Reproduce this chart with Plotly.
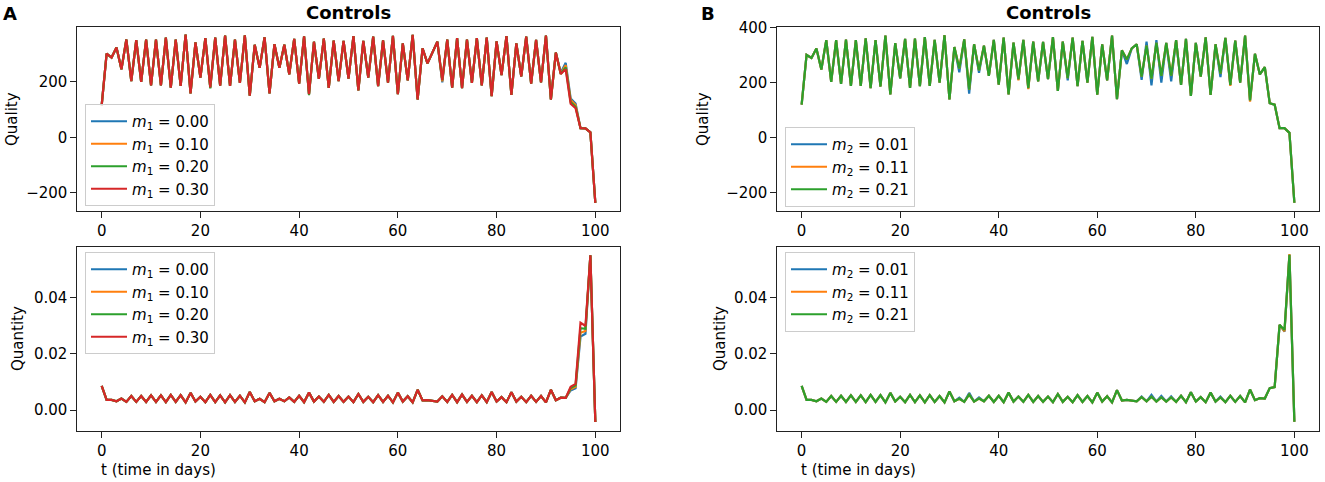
#!/usr/bin/env python3
"""
Controls panels (A: m1 sweep, B: m2 sweep) - quality and quantity over 100 days.
Writes out.html
"""

import plotly.graph_objects as go
from plotly.subplots import make_subplots

# ---------------------------------------------------------------------------
# Data
# ---------------------------------------------------------------------------
days = list(range(101))

# Panel A, m1 = 0.30 (top-most red line)
quality_a = [
    115, 301, 287, 323, 245, 352, 202, 350, 200, 352,
    187, 352, 187, 359, 179, 352, 185, 370, 158, 342,
    215, 357, 180, 359, 186, 366, 185, 352, 196, 367,
    150, 333, 250, 360, 158, 335, 250, 333, 227, 354,
    193, 363, 155, 344, 210, 355, 178, 348, 202, 347,
    211, 364, 169, 347, 215, 362, 184, 349, 197, 365,
    155, 338, 205, 369, 136, 320, 266, 305, 344, 206,
    352, 179, 357, 177, 352, 196, 357, 187, 359, 148,
    345, 224, 364, 153, 338, 219, 362, 193, 351, 198,
    366, 136, 305, 228, 245, 121, 105, 33, 32, 18,
    -236,
]
quantity_a = [
    0.0086, 0.0036, 0.0036, 0.0031, 0.0041, 0.0029, 0.0050, 0.0029, 0.0050, 0.0029,
    0.0052, 0.0029, 0.0052, 0.0028, 0.0054, 0.0029, 0.0053, 0.0027, 0.0061, 0.0030,
    0.0047, 0.0028, 0.0054, 0.0028, 0.0052, 0.0027, 0.0053, 0.0029, 0.0051, 0.0027,
    0.0064, 0.0031, 0.0040, 0.0028, 0.0061, 0.0031, 0.0040, 0.0031, 0.0045, 0.0029,
    0.0051, 0.0028, 0.0062, 0.0030, 0.0048, 0.0029, 0.0054, 0.0029, 0.0050, 0.0029,
    0.0048, 0.0028, 0.0057, 0.0029, 0.0047, 0.0028, 0.0053, 0.0029, 0.0051, 0.0027,
    0.0062, 0.0030, 0.0049, 0.0027, 0.0072, 0.0034, 0.0035, 0.0033, 0.0030, 0.0049,
    0.0029, 0.0054, 0.0028, 0.0055, 0.0029, 0.0051, 0.0028, 0.0052, 0.0028, 0.0064,
    0.0030, 0.0046, 0.0028, 0.0063, 0.0030, 0.0047, 0.0028, 0.0051, 0.0029, 0.0050,
    0.0027, 0.0072, 0.0035, 0.0044, 0.0043, 0.0083, 0.0093, 0.0312, 0.0300, 0.0552,
    -0.0043,
]
# where the lower m1 lines show through (day: value)
m1_labels = ['0.00', '0.10', '0.20', '0.30']
quality_a_diff = {
    '0.00': {69: 198, 93: 232, 94: 268, 95: 140, 96: 122},
    '0.10': {69: 201, 94: 260, 95: 134, 96: 116},
    '0.20': {22: 176, 42: 152, 94: 252, 95: 127, 96: 110},
    '0.30': {},
}
quantity_a_diff = {
    '0.00': {95: 0.0070, 96: 0.0078, 97: 0.0262, 98: 0.0272},
    '0.10': {95: 0.0074, 96: 0.0083, 97: 0.0276, 98: 0.0282},
    '0.20': {95: 0.0078, 96: 0.0088, 97: 0.0292, 98: 0.0290},
    '0.30': {},
}

# Panel B, m2 = 0.21 (top-most green line)
quality_b = [
    120, 301, 290, 325, 248, 355, 203, 355, 196, 357,
    188, 355, 188, 362, 180, 355, 186, 372, 157, 344,
    216, 360, 181, 361, 187, 366, 188, 356, 200, 373,
    139, 330, 252, 358, 175, 340, 245, 335, 225, 356,
    193, 364, 157, 346, 212, 356, 180, 350, 205, 349,
    213, 366, 170, 350, 217, 364, 187, 352, 200, 367,
    156, 340, 208, 372, 140, 318, 285, 325, 340, 222,
    335, 215, 345, 225, 345, 226, 355, 192, 360, 152,
    345, 222, 365, 155, 340, 233, 363, 192, 353, 200,
    372, 135, 305, 230, 257, 125, 120, 34, 34, 17,
    -238,
]
quantity_b = [
    0.0086, 0.0036, 0.0036, 0.0031, 0.0041, 0.0029, 0.0050, 0.0029, 0.0051, 0.0029,
    0.0052, 0.0029, 0.0052, 0.0028, 0.0054, 0.0029, 0.0053, 0.0027, 0.0061, 0.0030,
    0.0047, 0.0028, 0.0054, 0.0028, 0.0052, 0.0027, 0.0053, 0.0029, 0.0050, 0.0027,
    0.0066, 0.0031, 0.0040, 0.0029, 0.0055, 0.0030, 0.0041, 0.0031, 0.0051, 0.0029,
    0.0051, 0.0028, 0.0062, 0.0030, 0.0048, 0.0029, 0.0054, 0.0029, 0.0050, 0.0029,
    0.0048, 0.0028, 0.0057, 0.0029, 0.0047, 0.0028, 0.0053, 0.0029, 0.0050, 0.0027,
    0.0062, 0.0030, 0.0049, 0.0027, 0.0071, 0.0034, 0.0036, 0.0034, 0.0031, 0.0046,
    0.0031, 0.0047, 0.0030, 0.0045, 0.0030, 0.0045, 0.0029, 0.0051, 0.0028, 0.0063,
    0.0030, 0.0046, 0.0028, 0.0062, 0.0030, 0.0045, 0.0028, 0.0051, 0.0029, 0.0050,
    0.0027, 0.0073, 0.0035, 0.0042, 0.0041, 0.0078, 0.0082, 0.0304, 0.0286, 0.0554,
    -0.0042,
]
m2_labels = ['0.01', '0.11', '0.21']
quality_b_diff = {
    '0.01': {32: 238, 34: 160, 36: 236, 54: 208, 66: 268, 69: 210, 70: 350,
             71: 190, 72: 355, 73: 200, 75: 205, 85: 220},
    '0.11': {44: 208, 46: 176, 87: 188, 91: 131},
    '0.21': {},
}
quantity_b_diff = {
    '0.01': {32: 0.0044, 34: 0.0061, 36: 0.0045, 69: 0.0048, 71: 0.0054,
             73: 0.0050, 75: 0.0049, 85: 0.0048, 98: 0.0280},
    '0.11': {98: 0.0281, 99: 0.0557},
    '0.21': {},
}

# matplotlib tab10
COLORS = ['#1f77b4', '#ff7f0e', '#2ca02c', '#d62728']
FONT = 'DejaVu Sans'
W, H = 1325, 482


def with_diff(base, diff):
    """Copy of base series with the read-off deviations applied."""
    vals = list(base)
    for d, v in diff.items():
        vals[d] = v
    return vals


def px_x(px):
    return px / W


def px_y(py):
    return 1 - py / H


def add_lines(fig, row, col, base, diffs, labels, sub, legend):
    for i, lab in enumerate(labels):
        fig.add_trace(
            go.Scatter(
                x=days,
                y=with_diff(base, diffs[lab]),
                mode='lines',
                name=f'<i>m</i><sub>{sub}</sub> = {lab}',
                line=dict(color=COLORS[i], width=2.2),
                legend=legend,
                legendgroup=f'{legend}-{lab}',
            ),
            row=row, col=col,
        )


fig = make_subplots(rows=2, cols=2)

add_lines(fig, 1, 1, quality_a, quality_a_diff, m1_labels, 1, 'legend')
add_lines(fig, 2, 1, quantity_a, quantity_a_diff, m1_labels, 1, 'legend2')
add_lines(fig, 1, 2, quality_b, quality_b_diff, m2_labels, 2, 'legend3')
add_lines(fig, 2, 2, quantity_b, quantity_b_diff, m2_labels, 2, 'legend4')

# axes: matplotlib-like boxed frames
axis_style = dict(
    showline=True, mirror=True, linecolor='#222222', linewidth=1.3,
    ticks='outside', ticklen=5.5, tickwidth=1.2, tickcolor='#222222',
    showgrid=False, zeroline=False,
    tickfont=dict(family=FONT, size=15, color='black'),
)
col_dom = [[px_x(77), px_x(620)], [px_x(777), px_x(1319)]]
row_dom = [[px_y(211), px_y(27)], [px_y(431), px_y(247)]]

for row in (1, 2):
    for col in (1, 2):
        fig.update_xaxes(axis_style, domain=col_dom[col - 1], range=[-5, 105],
                         tickvals=[0, 20, 40, 60, 80, 100], row=row, col=col)
fig.update_yaxes(axis_style, domain=row_dom[0], range=[-265, 397],
                 tickvals=[-200, 0, 200], row=1, col=1)
fig.update_yaxes(axis_style, domain=row_dom[0], range=[-268, 403],
                 tickvals=[-200, 0, 200, 400], row=1, col=2)
for col in (1, 2):
    fig.update_yaxes(axis_style, domain=row_dom[1], range=[-0.0075, 0.0582],
                     tickvals=[0, 0.02, 0.04], tickformat='.2f', row=2, col=col)

# legends
legend_style = dict(
    xanchor='left', yanchor='top',
    bgcolor='rgba(255,255,255,0.8)', bordercolor='#cccccc', borderwidth=1,
    font=dict(family=FONT, size=15, color='black'),
    itemwidth=36, tracegroupgap=0,
)
fig.update_layout(
    legend=dict(legend_style, x=px_x(85), y=px_y(104)),
    legend2=dict(legend_style, x=px_x(85), y=px_y(252)),
    legend3=dict(legend_style, x=px_x(785), y=px_y(127)),
    legend4=dict(legend_style, x=px_x(785), y=px_y(252)),
)

# text: titles, panel letters, axis labels
notes = [
    ('<b>Controls</b>', 348, 12, 18, 0),
    ('<b>Controls</b>', 1048, 12, 18, 0),
    ('<b>A</b>', 10, 13, 18, 0),
    ('<b>B</b>', 708, 13, 18, 0),
    ('Quality', 12, 119, 15, -90),
    ('Quantity', 18, 339, 15, -90),
    ('Quality', 703, 119, 15, -90),
    ('Quantity', 720, 339, 15, -90),
    ('t (time in days)', 158, 470, 15, 0),
    ('t (time in days)', 858, 470, 15, 0),
]
for text, x, y, size, angle in notes:
    fig.add_annotation(
        text=text, x=px_x(x), y=px_y(y), xref='paper', yref='paper',
        xanchor='center', yanchor='middle', showarrow=False, textangle=angle,
        font=dict(family=FONT, size=size, color='black'),
    )

fig.update_layout(
    width=W, height=H,
    margin=dict(l=0, r=0, t=0, b=0, autoexpand=False),
    paper_bgcolor='white', plot_bgcolor='white',
    font=dict(family=FONT, color='black'),
    showlegend=True,
)

# page body has a default 8px margin; drop it so the figure fills the window
fig.write_html(
    'out.html',
    config={'displayModeBar': False},
    post_script="document.body.style.margin='0';document.body.style.overflow='hidden';",
)
